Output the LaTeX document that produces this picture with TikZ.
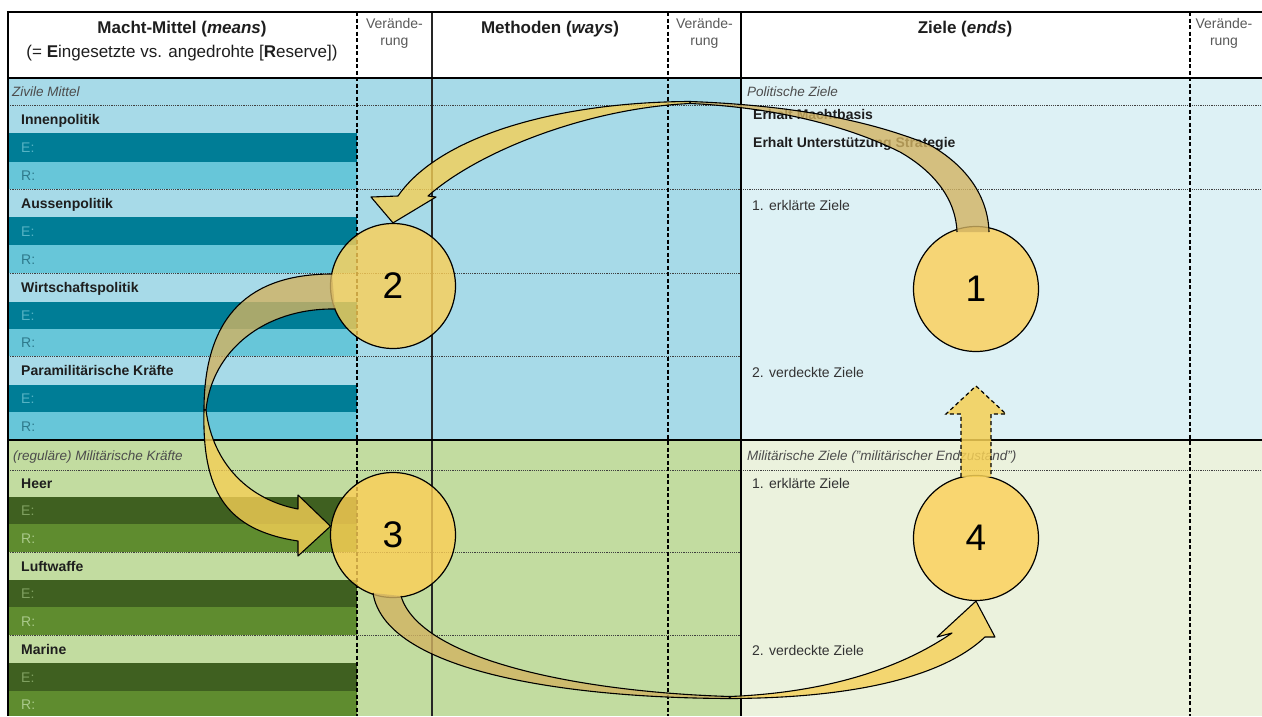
\documentclass[tikz,border=0pt]{standalone}
\usepackage{fontspec}
\setmainfont{Liberation Sans}
\usetikzlibrary{calc}

\definecolor{bluelt}{HTML}{A7DAE8}
\definecolor{blueE}{HTML}{007D96}
\definecolor{blueR}{HTML}{67C6D9}
\definecolor{bluepale}{HTML}{DDF1F5}
\definecolor{greenlt}{HTML}{C2DCA0}
\definecolor{greenE}{HTML}{3F6020}
\definecolor{greenR}{HTML}{5F8C2F}
\definecolor{greenpale}{HTML}{EBF2DD}
\definecolor{txtEblue}{HTML}{55B3C4}
\definecolor{txtRblue}{HTML}{2F7A8C}
\definecolor{txtEgreen}{HTML}{7FA060}
\definecolor{txtRgreen}{HTML}{A9C98A}
\definecolor{discfill}{HTML}{FDCF55}
\definecolor{ribbonback}{HTML}{D2B362}
\definecolor{ribbonfront}{HTML}{F5CF55}
\definecolor{darktext}{HTML}{1E1E1E}

\tikzset{
  txt/.style={inner sep=0pt, font=\fontsize{14}{16}\selectfont},
  rowlabel/.style={txt, anchor=base west, font=\fontsize{14}{16}\selectfont\bfseries, text=darktext},
  catlabel/.style={txt, anchor=base west, font=\fontsize{13.5}{16}\selectfont\itshape, text=black!70},
  ertag/.style={txt, anchor=base west},
  goal/.style={txt, anchor=base west, text=black!80},
  goalbold/.style={txt, anchor=base west, font=\fontsize{14}{16}\selectfont\bfseries, text=darktext},
  colhead/.style={inner sep=0pt, anchor=base, font=\fontsize{17}{20}\selectfont\bfseries, text=darktext},
  colsub/.style={inner sep=0pt, anchor=base, font=\fontsize{17}{20}\selectfont, text=darktext},
  chg/.style={inner sep=0pt, anchor=base, font=\fontsize{14}{16}\selectfont, text=black!65},
  dotline/.style={line width=1pt, black!75, dash pattern=on 1.1pt off 1.1pt},
  dashline/.style={line width=1.3pt, dash pattern=on 4pt off 2.5pt},
  disc/.style={circle, draw=black, line width=1.2pt, fill=discfill, fill opacity=.8,
    text opacity=1, minimum size=125pt, inner sep=0pt, font=\fontsize{37}{40}\selectfont},
  ribback/.style={fill=ribbonback, fill opacity=.8, draw=black, line width=1.1pt, line join=round},
  ribfront/.style={fill=ribbonfront, fill opacity=.8, draw=black, line width=1.1pt, line join=round},
  hintarrow/.style={fill=ribbonfront, fill opacity=.85},
  hintedge/.style={draw=black, line width=1.2pt, dash pattern=on 4pt off 3pt},
}

\begin{document}
\begin{tikzpicture}[x=1pt,y=-1pt]
\useasboundingbox (0,0) rectangle (1262,716);
\fill[white] (0,0) rectangle (1262,716);

% ---- backgrounds: civil means (blue) ----
\fill[bluelt] (8,78) rectangle (741,440);
\fill[bluepale] (741,78) rectangle (1262,440);
\foreach \ya/\yb/\yc in {133/162/189, 217/245/273, 302/329/356, 385/412/440}{
  \fill[blueE] (8,\ya) rectangle (357,\yb);
  \fill[blueR] (8,\yb) rectangle (357,\yc);
}
% ---- backgrounds: military forces (green) ----
\fill[greenlt] (8,440) rectangle (741,716);
\fill[greenpale] (741,440) rectangle (1262,716);
\foreach \ya/\yb/\yc in {497/524/552, 580/607/635, 663/691/716}{
  \fill[greenE] (8,\ya) rectangle (357,\yb);
  \fill[greenR] (8,\yb) rectangle (357,\yc);
}

% ---- grid ----
\foreach \yy in {105,189,470} \draw[dotline] (8,\yy) -- (1262,\yy);
\foreach \yy in {273,356,552,635} \draw[dotline] (8,\yy) -- (741,\yy);
\foreach \xx in {357,668,1190} \draw[dashline] (\xx,12) -- (\xx,716);
\draw[line width=1.4pt, black!85] (432,12) -- (432,716);
\draw[line width=2.4pt] (741,12) -- (741,716);
\draw[line width=1.8pt] (8,78) -- (1262,78);
\draw[line width=2.2pt] (8,440) -- (1262,440);
\draw[line width=2.5pt] (6.75,12) -- (1262,12);
\draw[line width=2.5pt] (8,10.75) -- (8,716);

% ---- column heads ----
\node[colhead] (hmeans) at (182,33) {Macht-Mittel (\textit{means})};
\node[colsub] (hmeanssub) at (182,57) {(= \textbf{E}ingesetzte vs. angedrohte [\textbf{R}eserve])};
\node[colhead] (hways) at (550,33) {Methoden (\textit{ways})};
\node[colhead] (hends) at (965,33) {Ziele (\textit{ends})};
\node[chg] (chgAa) at (394.5,28) {Verände-};
\node[chg] (chgAb) at (394.5,45) {rung};
\node[chg] (chgBa) at (704.5,28) {Verände-};
\node[chg] (chgBb) at (704.5,45) {rung};
\node[chg] (chgCa) at (1224,28) {Verände-};
\node[chg] (chgCb) at (1224,45) {rung};

% ---- means: civil ----
\node[catlabel] (zivil) at (12,96) {Zivile Mittel};
\node[rowlabel] (innen) at (21,124) {Innenpolitik};
\node[ertag, text=txtEblue] (innenE) at (21,152.5) {E:};
\node[ertag, text=txtRblue] (innenR) at (21,180.5) {R:};
\node[rowlabel] (aussen) at (21,208) {Aussenpolitik};
\node[ertag, text=txtEblue] (aussenE) at (21,236) {E:};
\node[ertag, text=txtRblue] (aussenR) at (21,264) {R:};
\node[rowlabel] (wirt) at (21,292.5) {Wirtschaftspolitik};
\node[ertag, text=txtEblue] (wirtE) at (21,320.5) {E:};
\node[ertag, text=txtRblue] (wirtR) at (21,347.5) {R:};
\node[rowlabel] (para) at (21,375.5) {Paramilitärische Kräfte};
\node[ertag, text=txtEblue] (paraE) at (21,403.5) {E:};
\node[ertag, text=txtRblue] (paraR) at (21,431) {R:};

% ---- means: military ----
\node[catlabel] (milit) at (13,460) {(reguläre) Militärische Kräfte};
\node[rowlabel] (heer) at (21,488.5) {Heer};
\node[ertag, text=txtEgreen] (heerE) at (21,515.5) {E:};
\node[ertag, text=txtRgreen] (heerR) at (21,543) {R:};
\node[rowlabel] (luft) at (21,571) {Luftwaffe};
\node[ertag, text=txtEgreen] (luftE) at (21,598.5) {E:};
\node[ertag, text=txtRgreen] (luftR) at (21,626) {R:};
\node[rowlabel] (marine) at (21,654) {Marine};
\node[ertag, text=txtEgreen] (marineE) at (21,682) {E:};
\node[ertag, text=txtRgreen] (marineR) at (21,709) {R:};

% ---- ends ----
\node[catlabel] (polz) at (747,96) {Politische Ziele};
\node[goalbold] (machtb) at (753,119) {Erhalt Machtbasis};
\node[goalbold] (unterst) at (753,147) {Erhalt Unterstützung Strategie};
\node[goal] (polerkl) at (752,210) {1. erklärte Ziele};
\node[goal] (polverd) at (752,377) {2. verdeckte Ziele};
\node[catlabel] (milz) at (747,460) {Militärische Ziele ("militärischer Endzustand")};
\node[goal] (milerkl) at (752,488) {1. erklärte Ziele};
\node[goal] (milverd) at (752,655) {2. verdeckte Ziele};

% ---- numbered steps ----
\node[disc] (c1) at (976,289) {1};
\node[disc] (c2) at (393,286) {2};
\node[disc] (c3) at (393,535) {3};
\node[disc] (c4) at (976,538) {4};

% ---- ribbon 1 -> 2 ----
\filldraw[ribback] (957,232) .. controls (956,200) and (935,172) .. (900,152)
  .. controls (860,132) and (790,108) .. (690,103.5) -- (690,101.5)
  .. controls (810,106) and (880,125) .. (930,145)
  .. controls (965,165) and (988,195) .. (989,232);
\filldraw[ribfront] (690,101.5) .. controls (560,102) and (440,135) .. (398,196)
  -- (371,197) -- (c2.north) -- (436,197) -- (428,196)
  .. controls (480,150) and (590,108) .. (690,103.5) -- cycle;

% ---- ribbon 2 -> 3 ----
\filldraw[ribback] (335,309) .. controls (265,308) and (212,350) .. (206,410)
  -- (204,410) .. controls (204,315) and (250,274) .. (332,274);
\filldraw[ribfront] (204,410) .. controls (202,490) and (225,530) .. (298,541)
  -- (298,556) -- (c3.172) -- (298,495) -- (298,509)
  .. controls (250,500) and (213,465) .. (206,410) -- cycle;

% ---- ribbon 3 -> 4 ----
\filldraw[ribback] (373,593) .. controls (385,670) and (560,698) .. (730,698.5)
  -- (730,696.5) .. controls (580,692) and (420,660) .. (401,596);
\filldraw[ribfront] (730,698.5) .. controls (860,698) and (945,675) .. (985,637)
  -- (995,637) -- (c4.south) -- (937,637) -- (952,633)
  .. controls (910,662) and (840,692) .. (730,696.5) -- cycle;

% ---- dashed hint arrow 4 -> 1 ----
\coordinate (hbl) at ($(c4.north)+(-15,2)$);
\coordinate (hbr) at ($(c4.north)+(15,2)$);
\coordinate (htip) at (976,386);
\fill[hintarrow] (hbl) -- (961,414) -- (946,414) -- (htip) -- (1006,414) -- (991,414) -- (hbr) -- cycle;
\draw[hintedge] (hbl) -- (961,414) -- (946,414) -- (htip) -- (1006,414) -- (991,414) -- (hbr);
\end{tikzpicture}
\end{document}
